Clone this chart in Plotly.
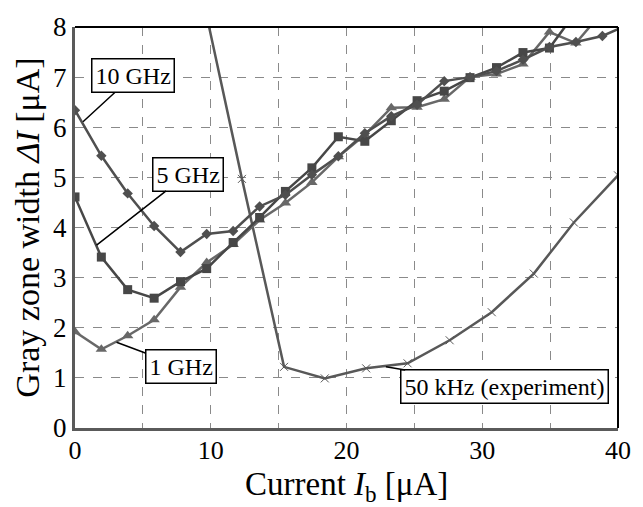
import plotly.graph_objects as go

# ---- data ----
x_sim = [0, 1.94, 3.88, 5.83, 7.77, 9.7, 11.65, 13.6, 15.5, 17.45, 19.4, 21.35,
         23.3, 25.2, 27.2, 29.1, 31.05, 33.0, 34.95, 36.9, 38.85, 40.8]
y_10ghz = [6.34, 5.43, 4.68, 4.03, 3.51, 3.87, 3.93, 4.42, 4.65, 5.05, 5.42, 5.88,
           6.22, 6.45, 6.92, 7.0, 7.12, 7.35, 7.6, 7.7, 7.82, 8.05]
y_5ghz = [4.61, 3.41, 2.76, 2.59, 2.92, 3.18, 3.70, 4.20, 4.72, 5.19, 5.81, 5.72,
          6.13, 6.53, 6.72, 6.99, 7.19, 7.49, 7.58, 8.3]
y_1ghz = [1.92, 1.57, 1.84, 2.16, 2.81, 3.30, 3.66, 4.15, 4.49, 4.90, 5.41, 5.85,
          6.39, 6.40, 6.56, 7.0, 7.06, 7.26, 7.9, 7.68, 8.3]
x_exp = [9.2, 12.3, 15.4, 18.4, 21.45, 24.5, 27.6, 30.7, 33.8, 36.75, 40.0]
y_exp = [8.85, 4.97, 1.22, 0.99, 1.19, 1.29, 1.75, 2.31, 3.08, 4.10, 5.04]

x_ticks = [0, 10, 20, 30, 40]
y_ticks = [0, 1, 2, 3, 4, 5, 6, 7, 8]

FONT = "Liberation Serif, Times New Roman, serif"

fig = go.Figure()
fig.add_trace(go.Scatter(x=x_exp, y=y_exp, mode="lines+markers",
                         line=dict(color="#585858", width=2.5),
                         marker=dict(symbol="x-thin-open", size=8,
                                     line=dict(color="#777", width=1))))
fig.add_trace(go.Scatter(x=x_sim[:len(y_1ghz)], y=y_1ghz, mode="lines+markers",
                         line=dict(color="#686868", width=2.5),
                         marker=dict(symbol="triangle-up", size=10, color="#686868")))
fig.add_trace(go.Scatter(x=x_sim[:len(y_5ghz)], y=y_5ghz, mode="lines+markers",
                         line=dict(color="#474747", width=2.5),
                         marker=dict(symbol="square", size=9, color="#474747")))
fig.add_trace(go.Scatter(x=x_sim[:len(y_10ghz)], y=y_10ghz, mode="lines+markers",
                         line=dict(color="#4f4f4f", width=2.5),
                         marker=dict(symbol="diamond", size=8, color="#4f4f4f")))

grid = dict(gridcolor="#8a8a8a", griddash="dash", gridwidth=1)

fig.update_xaxes(range=[0, 40], tickvals=x_ticks, showgrid=True, **grid,
                 minor=dict(dtick=5, showgrid=True, gridcolor="#8a8a8a",
                            griddash="dash", gridwidth=1),
                 showline=True, linecolor="#5a5a5a", linewidth=3, ticks="",
                 zeroline=False, ticklabelstandoff=-3,
                 tickfont=dict(family=FONT, size=26, color="black"))
fig.update_yaxes(range=[0, 8], tickvals=y_ticks, showgrid=True, **grid,
                 showline=True, linecolor="#5a5a5a", linewidth=3, ticks="",
                 zeroline=False, ticklabelstandoff=0,
                 tickfont=dict(family=FONT, size=27, color="black"),
                 title=dict(text="Gray zone width <i>ΔI</i> [μA]", standoff=4,
                            font=dict(family=FONT, size=34, color="black")))

# x-axis title placed below the tick labels
fig.add_annotation(xref="paper", yref="paper", x=0.5, y=-0.147,
                   xanchor="center", yanchor="middle", showarrow=False,
                   text="Current <i>I</i><sub>b</sub> [μA]",
                   font=dict(family=FONT, size=33, color="black"))

# top and right borders
fig.add_shape(type="line", xref="paper", yref="paper", x0=0, x1=1, y0=1, y1=1,
              line=dict(color="black", width=2))
fig.add_shape(type="line", xref="paper", yref="paper", x0=1, x1=1, y0=0, y1=1,
              line=dict(color="black", width=2))

labels = [
    ("10 GHz", 0.59, 6.11, 50, -46),
    ("5 GHz", 1.59, 3.65, 91, -71),
    ("1 GHz", 3.06, 1.71, 64, 24),
    ("50 kHz (experiment)", 22.9, 1.22, 119, 20),
]
for text, hx, hy, ax, ay in labels:
    fig.add_annotation(x=hx, y=hy, ax=ax, ay=ay, text=text, showarrow=True,
                       arrowhead=0, arrowwidth=1.5, arrowcolor="black",
                       bgcolor="white", bordercolor="black", borderwidth=1.5,
                       borderpad=3,
                       font=dict(family=FONT, size=24, color="black"))

fig.update_layout(width=643, height=507, showlegend=False,
                  plot_bgcolor="white", paper_bgcolor="white",
                  margin=dict(l=75, r=23, t=22, b=79))

fig.write_html("out.html")
